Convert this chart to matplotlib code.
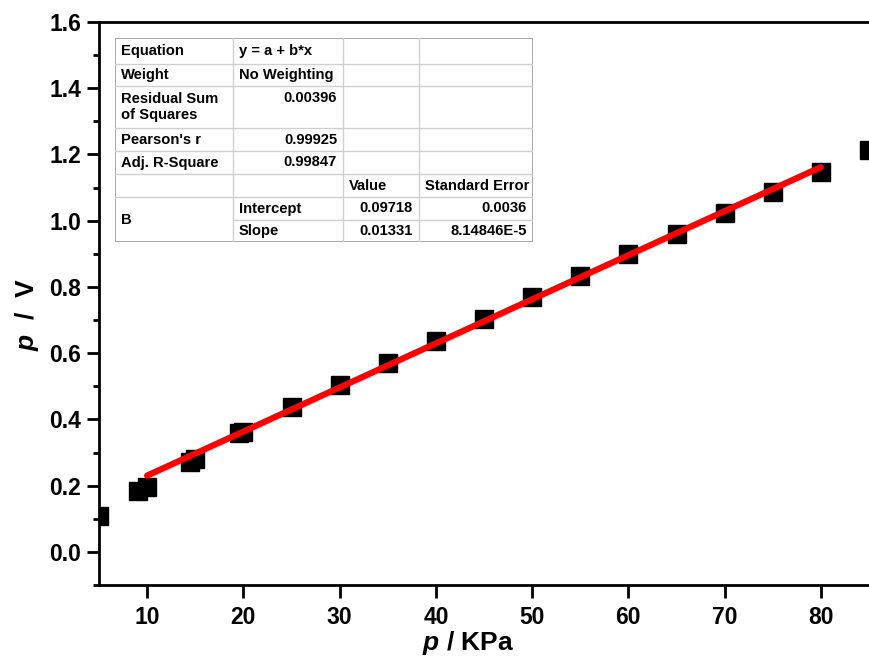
import matplotlib
matplotlib.use('Agg')
import matplotlib.pyplot as plt
import numpy as np

plt.rcParams['font.family'] = 'Liberation Sans'
plt.rcParams['font.weight'] = 'bold'
plt.rcParams['mathtext.fontset'] = 'custom'
plt.rcParams['mathtext.it'] = 'Liberation Sans:italic:bold'
plt.rcParams['mathtext.rm'] = 'Liberation Sans:bold'

# data
pressure = [5, 9, 10, 14.5, 15, 19.5, 20, 25, 30, 35, 40, 45, 50, 55, 60, 65, 70, 75, 80, 85]
p_over_v = [0.109, 0.185, 0.195, 0.272, 0.281, 0.358, 0.362, 0.437, 0.505, 0.570, 0.637,
            0.703, 0.770, 0.834, 0.900, 0.960, 1.022, 1.087, 1.148, 1.213]

intercept = 0.09718
slope = 0.01331
fit_range = [10, 80]

table_rows = [
    ['Equation', 'y = a + b*x', '', ''],
    ['Weight', 'No Weighting', '', ''],
    ['Residual Sum\nof Squares', '0.00396', '', ''],
    ["Pearson's r", '0.99925', '', ''],
    ['Adj. R-Square', '0.99847', '', ''],
    ['', '', 'Value', 'Standard Error'],
    ['B', 'Intercept', '0.09718', '0.0036'],
    ['', 'Slope', '0.01331', '8.14846E-5'],
]

W, H = 869, 661
fig = plt.figure(figsize=(W / 100, H / 100), dpi=100)
ax = fig.add_axes([99 / W, (H - 585) / H, (W - 99) / W, (585 - 22) / H])

ax.plot(pressure, p_over_v, 's', color='black', markersize=13, zorder=2)
fx = np.array(fit_range)
ax.plot(fx, intercept + slope * fx, color='red', linewidth=4.5, solid_capstyle='round', zorder=3)

ax.set_xlim(5, 85)
ax.set_ylim(-0.1, 1.6)
ax.set_xticks(np.arange(10, 81, 10))
ax.set_yticks(np.arange(0, 1.61, 0.2))
ax.set_yticks(np.arange(-0.1, 1.6, 0.2), minor=True)
ax.yaxis.set_major_formatter(matplotlib.ticker.FormatStrFormatter('%.1f'))
ax.tick_params(which='major', direction='out', length=9, width=2, labelsize=16.5)
ax.tick_params(axis='y', which='major', pad=4)
ax.tick_params(axis='x', which='major', pad=6)
ax.tick_params(which='minor', direction='out', length=4, width=2)
for s in ['left', 'bottom', 'top']:
    ax.spines[s].set_linewidth(2)
ax.spines['right'].set_visible(False)

ax.set_xlabel(r'$p$ / KPa', fontsize=19, fontweight='bold', labelpad=0)
ax.set_ylabel(r'$p$  /  V', fontsize=19, fontweight='bold', labelpad=6)
ax.xaxis.label.set_x(0.479)
ax.yaxis.label.set_y(0.481)

# fit result table, drawn in pixel coordinates of its own box
tx0, ty0, tx1, ty1 = 115, 38, 533, 242
tab = fig.add_axes([tx0 / W, (H - ty1) / H, (tx1 - tx0) / W, (ty1 - ty0) / H])
tab.set_xlim(tx0, tx1)
tab.set_ylim(ty1, ty0)
tab.axis('off')
tab.add_patch(plt.Rectangle((tx0, ty0), tx1 - tx0, ty1 - ty0, facecolor='white',
                            edgecolor='#9a9a9a', linewidth=1.2))
col_x = [tx0, 233, 343, 419, tx1]
row_y = [ty0, 64, 86, 128, 151, 174, 197, 220, ty1]
grid = '#cfcfcf'
for x in col_x[1:-1]:
    tab.plot([x, x], [ty0, ty1], color=grid, lw=1)
for i, y in enumerate(row_y[1:-1], start=1):
    start = col_x[1] if i == 7 else tx0
    tab.plot([start, tx1], [y, y], color=grid, lw=1)

for i, row in enumerate(table_rows):
    top, bot = row_y[i], row_y[i + 1]
    mid = (top + bot) / 2
    for j, txt in enumerate(row):
        if not txt:
            continue
        y = mid
        if i == 2:
            y = top + 12 if j > 0 else mid
        if i == 6 and j == 0:
            y = (row_y[6] + row_y[8]) / 2
        numeric = txt[0].isdigit()
        if numeric:
            tab.text(col_x[j + 1] - 6, y, txt, ha='right', va='center', fontsize=10.6, fontweight='bold')
        else:
            tab.text(col_x[j] + 6, y, txt, ha='left', va='center', fontsize=10.6, fontweight='bold',
                     linespacing=1.1)

fig.savefig('out.png', dpi=100)
